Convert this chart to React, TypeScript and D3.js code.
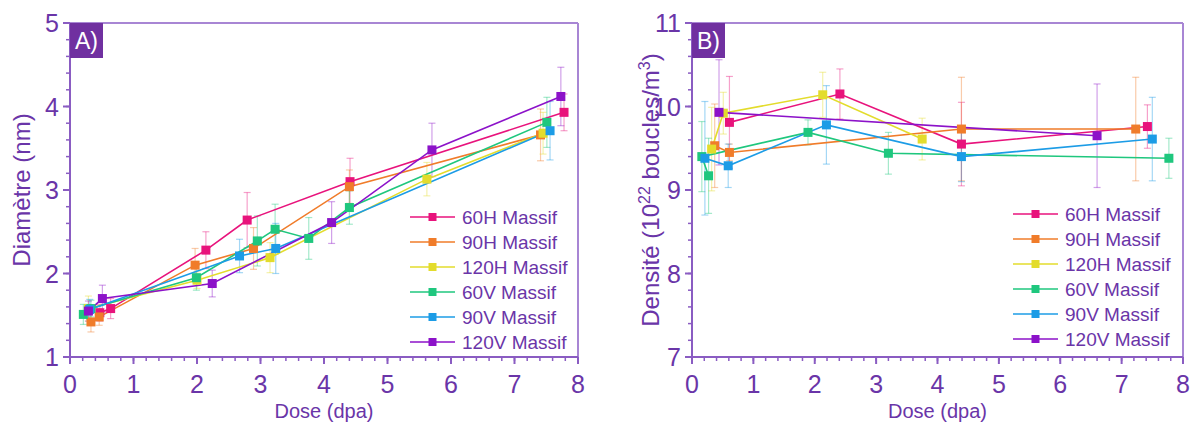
import React from "react";
import * as d3 from "d3";

// ---------- Data ----------
const seriesNames = ["60H Massif", "90H Massif", "120H Massif", "60V Massif", "90V Massif", "120V Massif"];
const seriesColors = ["#e8137c", "#f07c2a", "#e3dc2c", "#1fc77e", "#1c9ce6", "#8c12c9"];

// Panel A: [dose, diameter, error]
const diam60H = [[0.47, 1.53, 0.1], [0.64, 1.58, 0.12], [2.14, 2.28, 0.22], [2.79, 2.64, 0.33], [4.41, 3.1, 0.28], [7.78, 3.93, 0.22]];
const diam90H = [[0.33, 1.42, 0.12], [0.46, 1.48, 0.1], [1.97, 2.1, 0.2], [2.89, 2.3, 0.25], [4.4, 3.04, 0.2], [7.41, 3.66, 0.31]];
const diam120H = [[0.29, 1.58, 0.15], [2.0, 1.92, 0.1], [3.15, 2.19, 0.18], [5.62, 3.13, 0.2], [7.45, 3.68, 0.25]];
const diam60V = [[0.21, 1.51, 0.12], [0.33, 1.58, 0.1], [1.99, 1.95, 0.15], [2.95, 2.39, 0.3], [3.23, 2.53, 0.3], [3.76, 2.42, 0.25], [4.4, 2.79, 0.2], [7.51, 3.81, 0.3]];
const diam90V = [[0.31, 1.57, 0.12], [2.67, 2.21, 0.2], [3.24, 2.3, 0.3], [7.56, 3.71, 0.35]];
const diam120V = [[0.29, 1.55, 0.12], [0.51, 1.7, 0.16], [2.24, 1.88, 0.16], [4.12, 2.61, 0.25], [5.7, 3.48, 0.32], [7.73, 4.12, 0.35]];

// Panel B: [dose, density (1e22 /m3), error]
const dens60H = [[0.61, 9.81, 0.55], [2.41, 10.15, 0.3], [4.39, 9.55, 0.5], [7.42, 9.76, 0.26]];
const dens90H = [[0.37, 9.53, 0.5], [0.61, 9.45, 0.1], [4.39, 9.73, 0.62], [7.23, 9.73, 0.62]];
const dens120H = [[0.32, 9.49, 0.5], [0.51, 9.92, 0.25], [2.13, 10.14, 0.27], [3.75, 9.61, 0.25]];
const dens60V = [[0.27, 9.17, 0.45], [0.16, 9.4, 0.42], [1.89, 9.69, 0.15], [3.2, 9.44, 0.25], [7.77, 9.38, 0.24]];
const dens90V = [[0.21, 9.38, 0.68], [0.59, 9.29, 0.26], [2.19, 9.78, 0.47], [4.39, 9.4, 0.3], [7.5, 9.61, 0.5]];
const dens120V = [[0.44, 9.93, 0.63], [6.6, 9.65, 0.62]];

const xTicks = [0, 1, 2, 3, 4, 5, 6, 7, 8];
const yTicksA = [1, 2, 3, 4, 5];
const yTicksB = [7, 8, 9, 10, 11];

const panelAData = [diam60H, diam90H, diam120H, diam60V, diam90V, diam120V];
const panelBData = [dens60H, dens90H, dens120H, dens60V, dens90V, dens120V];

// ---------- Styles ----------
const TEXT = "#6a35a8";
const AXIS = "#8a5cc2";
const FRAME = "#a886d4";
const FONT = "'Liberation Sans', Arial, sans-serif";

type PanelProps = {
  x0: number; x1: number; y0: number; y1: number;
  yDomain: [number, number];
  yTicks: number[];
  data: number[][][];
  label: string;
  legendX: number; legendY: number;
  yTitle: React.ReactNode;
  yTitleX: number;
};

function Panel(p: PanelProps) {
  const xs = d3.scaleLinear().domain([0, 8]).range([p.x0, p.x1]);
  const ys = d3.scaleLinear().domain(p.yDomain).range([p.y1, p.y0]);
  const line = d3.line<number[]>().x((d) => xs(d[0])).y((d) => ys(d[1]));
  const xMinor = d3.range(0, 8.0001, 0.2);
  const yMinor = d3.range(p.yDomain[0], p.yDomain[1] + 0.0001, 0.2);
  const ms = 9;
  return (
    <g fontFamily={FONT}>
      {/* frame */}
      <line x1={p.x0} x2={p.x1} y1={p.y0} y2={p.y0} stroke={FRAME} strokeWidth={2} />
      <line x1={p.x1} x2={p.x1} y1={p.y0} y2={p.y1} stroke={FRAME} strokeWidth={2} />
      {/* error bars */}
      {p.data.map((s, i) => (
        <g key={"e" + i} stroke={seriesColors[i]} strokeOpacity={0.4} strokeWidth={1.2}>
          {s.map((d, j) => (
            <g key={j}>
              <line x1={xs(d[0])} x2={xs(d[0])} y1={ys(d[1] - d[2])} y2={ys(d[1] + d[2])} />
              <line x1={xs(d[0]) - 3.5} x2={xs(d[0]) + 3.5} y1={ys(d[1] - d[2])} y2={ys(d[1] - d[2])} />
              <line x1={xs(d[0]) - 3.5} x2={xs(d[0]) + 3.5} y1={ys(d[1] + d[2])} y2={ys(d[1] + d[2])} />
            </g>
          ))}
        </g>
      ))}
      {/* lines */}
      {p.data.map((s, i) => (
        <path key={"l" + i} d={line(s) || ""} fill="none" stroke={seriesColors[i]} strokeWidth={1.6} />
      ))}
      {/* markers */}
      {p.data.map((s, i) => (
        <g key={"m" + i} fill={seriesColors[i]}>
          {s.map((d, j) => (
            <rect key={j} x={xs(d[0]) - ms / 2} y={ys(d[1]) - ms / 2} width={ms} height={ms} />
          ))}
        </g>
      ))}
      {/* axes */}
      <line x1={p.x0} x2={p.x1} y1={p.y1} y2={p.y1} stroke={AXIS} strokeWidth={2} />
      <line x1={p.x0} x2={p.x0} y1={p.y0} y2={p.y1} stroke={AXIS} strokeWidth={2} />
      {xMinor.map((v, i) => (
        <line key={"xm" + i} x1={xs(v)} x2={xs(v)} y1={p.y1} y2={p.y1 + 4} stroke={AXIS} strokeWidth={1.5} />
      ))}
      {xTicks.map((v) => (
        <g key={"xt" + v}>
          <line x1={xs(v)} x2={xs(v)} y1={p.y1} y2={p.y1 + 7} stroke={AXIS} strokeWidth={2} />
          <text x={xs(v)} y={p.y1 + 36} textAnchor="middle" fontSize={25} fill={TEXT}>{v}</text>
        </g>
      ))}
      {yMinor.map((v, i) => (
        <line key={"ym" + i} x1={p.x0 - 4} x2={p.x0} y1={ys(v)} y2={ys(v)} stroke={AXIS} strokeWidth={1.5} />
      ))}
      {p.yTicks.map((v) => (
        <g key={"yt" + v}>
          <line x1={p.x0 - 7} x2={p.x0} y1={ys(v)} y2={ys(v)} stroke={AXIS} strokeWidth={2} />
          <text x={p.x0 - 11} y={ys(v)} dy="0.36em" textAnchor="end" fontSize={25} fill={TEXT}>{v}</text>
        </g>
      ))}
      {/* panel label */}
      <rect x={p.x0} y={p.y0} width={33} height={35} fill="#7030a0" />
      <text x={p.x0 + 16.5} y={p.y0 + 26} textAnchor="middle" fontSize={23} fill="#ffffff">{p.label}</text>
      {/* titles */}
      <text x={(p.x0 + p.x1) / 2} y={418} textAnchor="middle" fontSize={20} fill={TEXT}>Dose (dpa)</text>
      <text transform={`translate(${p.yTitleX},${(p.y0 + p.y1) / 2}) rotate(-90)`} textAnchor="middle" fontSize={24} fill={TEXT}>{p.yTitle}</text>
      {/* legend */}
      {seriesNames.map((n, i) => {
        const y = p.legendY + i * 25;
        return (
          <g key={"lg" + i}>
            <line x1={p.legendX} x2={p.legendX + 45} y1={y} y2={y} stroke={seriesColors[i]} strokeWidth={1.6} />
            <rect x={p.legendX + 22.5 - 4} y={y - 4} width={8} height={8} fill={seriesColors[i]} />
            <text x={p.legendX + 52} y={y} dy="0.36em" fontSize={19} fill={TEXT}>{n}</text>
          </g>
        );
      })}
    </g>
  );
}

export default function App() {
  return (
    <svg width={1196} height={434} style={{ position: "absolute", left: 0, top: 0, background: "#fff" }}>
      <rect width={1196} height={434} fill="#ffffff" />
      <Panel
        x0={70} x1={578} y0={23} y1={357}
        yDomain={[1, 5]} yTicks={yTicksA}
        data={panelAData} label="A)"
        legendX={410} legendY={217}
        yTitle="Diamètre (nm)" yTitleX={30}
      />
      <Panel
        x0={692} x1={1183} y0={23} y1={357}
        yDomain={[7, 11]} yTicks={yTicksB}
        data={panelBData} label="B)"
        legendX={1013} legendY={214}
        yTitle={<>
          <tspan>Densité (10</tspan>
          <tspan dy={-9} fontSize={16}>22</tspan>
          <tspan dy={9}> boucles/m</tspan>
          <tspan dy={-9} fontSize={16}>3</tspan>
          <tspan dy={9}>)</tspan>
        </>}
        yTitleX={659}
      />
    </svg>
  );
}
